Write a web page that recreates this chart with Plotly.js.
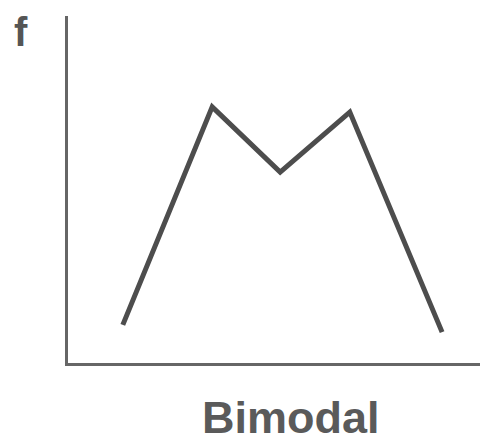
<!DOCTYPE html>
<html>
<head>
<meta charset="utf-8">
<script src="https://cdn.plot.ly/plotly-3.0.1.min.js"></script>
<style>html,body{margin:0;padding:0;background:#fff;}#chart{width:480px;height:444px;}</style>
</head>
<body>
<div id="chart"></div>
<script>
// Data (arbitrary units)
const xVals = [13.3, 35.0, 51.5, 68.4, 90.8];
const fVals = [11.0, 73.8, 55.0, 72.3, 8.9];
const yLabel = "f";
const xLabel = "Bimodal";

const trace = {
  x: xVals,
  y: fVals,
  type: 'scatter',
  mode: 'lines',
  line: {color: '#4d4d4d', width: 5},
  hoverinfo: 'skip'
};

const layout = {
  width: 480,
  height: 444,
  margin: {l: 68, r: 0, t: 16, b: 81},
  paper_bgcolor: '#ffffff',
  plot_bgcolor: '#ffffff',
  showlegend: false,
  xaxis: {
    range: [0, 100], showgrid: false, zeroline: false, showticklabels: false, ticks: '',
    showline: true, linecolor: '#666666', linewidth: 3, fixedrange: true
  },
  yaxis: {
    range: [0, 100], showgrid: false, zeroline: false, showticklabels: false, ticks: '',
    showline: true, linecolor: '#666666', linewidth: 3, fixedrange: true
  },
  annotations: [
    {text: '<b>' + yLabel + '</b>', xref: 'paper', yref: 'paper', x: -0.114, y: 0.955,
     xanchor: 'center', yanchor: 'middle', showarrow: false,
     font: {family: 'Liberation Sans, Arial, sans-serif', size: 40, color: '#555555'}},
    {text: '<b>' + xLabel + '</b>', xref: 'paper', yref: 'paper', x: 0.541, y: -0.158,
     xanchor: 'center', yanchor: 'middle', showarrow: false,
     font: {family: 'Liberation Sans, Arial, sans-serif', size: 45, color: '#5a5a5a'}}
  ]
};

Plotly.newPlot('chart', [trace], layout, {staticPlot: true, displayModeBar: false});
</script>
</body>
</html>
